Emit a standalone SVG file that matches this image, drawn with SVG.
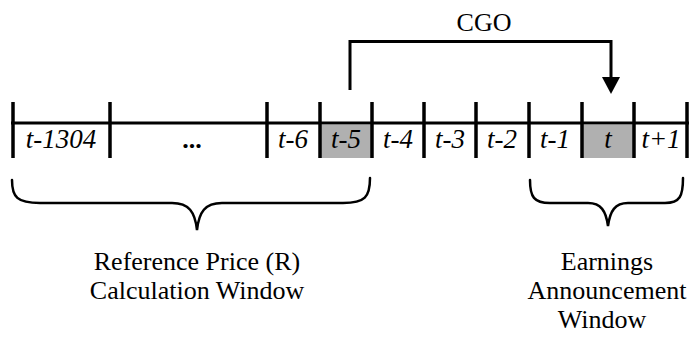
<svg xmlns="http://www.w3.org/2000/svg" width="692" height="341" viewBox="0 0 692 341">
<defs>
<style>
.ln{stroke:#000;stroke-width:3;fill:none}
.tk{stroke:#000;stroke-width:3.5}
.br{stroke:#000;stroke-width:2.5;fill:none;stroke-linecap:round}
.lab{font-family:'Liberation Serif','DejaVu Serif',serif;font-style:italic;font-size:27px;fill:#000;text-anchor:middle}
.txt{font-family:'Liberation Serif','DejaVu Serif',serif;font-size:26px;fill:#000;text-anchor:middle}
.sh{fill:#b0b0b0}
</style>
</defs>
<rect width="692" height="341" fill="#fff"/>
<g id="timeline">
<rect class="sh" x="320" y="125" width="52" height="33"/>
<rect class="sh" x="582" y="125" width="52" height="33"/>
<line class="ln" x1="11" y1="123" x2="689" y2="123"/>
<line class="tk" x1="13" y1="102" x2="13" y2="158"/>
<line class="tk" x1="110" y1="102" x2="110" y2="158"/>
<line class="tk" x1="267" y1="102" x2="267" y2="158"/>
<line class="tk" x1="320" y1="102" x2="320" y2="158"/>
<line class="tk" x1="372" y1="102" x2="372" y2="158"/>
<line class="tk" x1="424" y1="102" x2="424" y2="158"/>
<line class="tk" x1="476" y1="102" x2="476" y2="158"/>
<line class="tk" x1="529" y1="102" x2="529" y2="158"/>
<line class="tk" x1="582" y1="102" x2="582" y2="158"/>
<line class="tk" x1="634" y1="102" x2="634" y2="158"/>
<line class="tk" x1="687" y1="102" x2="687" y2="158"/>
</g>
<g id="labels">
<text class="lab" x="61" y="148">t-1304</text>
<text class="txt" x="192" y="148" font-weight="bold">...</text>
<text class="lab" x="293" y="148">t-6</text>
<text class="lab" x="346" y="148">t-5</text>
<text class="lab" x="398" y="148">t-4</text>
<text class="lab" x="450" y="148">t-3</text>
<text class="lab" x="502" y="148">t-2</text>
<text class="lab" x="555" y="148">t-1</text>
<text class="lab" x="608" y="148">t</text>
<text class="lab" x="661" y="148">t+1</text>
</g>
<g id="connectors">
<path class="ln" d="M350,90 L350,41.5 L611,41.5 L611,80"/>
<path d="M602,77 L620,77 L611,94 Z" fill="#000"/>
</g>
<g id="cgo">
<text class="txt" x="484" y="31">CGO</text>
</g>
<g id="ref-window">
<path class="br" d="M12,180 C12,197 17,203 40,203 L172,203 C189,203 195,212 197,230 C199,212 205,203 222,203 L343,203 C365,203 370,197 370,178"/>
<text class="txt" x="197" y="270">Reference Price (R)</text>
<text class="txt" x="197" y="299">Calculation Window</text>
</g>
<g id="earn-window">
<path class="br" d="M530,180 C530,197 534,203 550,203 L588,203 C601,203 606,211 608,226 C610,211 615,203 628,203 L665,203 C680,203 683,196 683,178"/>
<text class="txt" x="607" y="270">Earnings</text>
<text class="txt" x="607" y="299">Announcement</text>
<text class="txt" x="602" y="328">Window</text>
</g>
</svg>
